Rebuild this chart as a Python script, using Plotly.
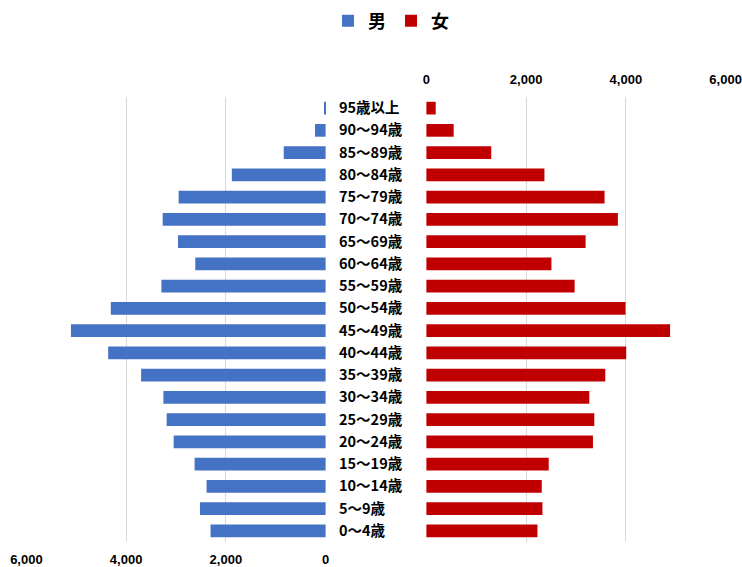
import plotly.graph_objects as go

categories = ["95歳以上", "90〜94歳", "85〜89歳", "80〜84歳", "75〜79歳", "70〜74歳",
              "65〜69歳", "60〜64歳", "55〜59歳", "50〜54歳", "45〜49歳", "40〜44歳",
              "35〜39歳", "30〜34歳", "25〜29歳", "20〜24歳", "15〜19歳", "10〜14歳",
              "5〜9歳", "0〜4歳"]
male = [25, 212, 840, 1880, 2947, 3267, 2960, 2613, 3293, 4307, 5107, 4360,
        3700, 3253, 3187, 3047, 2627, 2387, 2520, 2307]
female = [187, 547, 1300, 2367, 3573, 3840, 3193, 2507, 2973, 3993, 4887, 4007,
          3587, 3267, 3367, 3340, 2453, 2313, 2327, 2227]
tick_vals = [0, 2000, 4000, 6000]
tick_text = ["0", "2,000", "4,000", "6,000"]

CJK = "Noto Sans CJK JP"
NUM = "Liberation Sans Narrow, Arial Narrow, Liberation Sans, Arial"

W, H = 742, 567

fig = go.Figure()
fig.add_trace(go.Bar(y=categories, x=male, orientation="h", name="男",
                     marker=dict(color="#4472C4", line=dict(width=0)),
                     xaxis="x", yaxis="y"))
fig.add_trace(go.Bar(y=categories, x=female, orientation="h", name="女",
                     marker=dict(color="#C00000", line=dict(width=0)),
                     xaxis="x2", yaxis="y2"))

axis_common = dict(tickvals=tick_vals, ticktext=tick_text, showgrid=True,
                   gridcolor="#d9d9d9", gridwidth=1, zeroline=False, showline=False,
                   ticks="", tickfont=dict(family=NUM, size=13, color="#000000", weight="bold"),
                   fixedrange=True, automargin=False)

fig.update_layout(
    width=W, height=H,
    margin=dict(l=0, r=0, t=97, b=25),
    paper_bgcolor="white", plot_bgcolor="white",
    bargap=0.43,
    showlegend=True,
    legend=dict(orientation="h", x=391 / W, xanchor="center", y=1 - 21 / H, yref="container",
                yanchor="middle", font=dict(family=CJK, size=18, color="#000000", weight="bold"),
                itemwidth=30, traceorder="normal"),
    xaxis=dict(domain=[26 / W, 326 / W], range=[6008, -8], side="bottom",
               anchor="y", ticklabelstandoff=8, **axis_common),
    xaxis2=dict(domain=[426 / W, 726 / W], range=[-8, 6008], side="top",
                anchor="y2", ticklabelstandoff=9, **axis_common),
    yaxis=dict(anchor="x", side="right", categoryorder="array",
               categoryarray=categories[::-1], showgrid=False, zeroline=False,
               showline=False, ticks="", ticklabelstandoff=12, automargin=False,
               tickfont=dict(family=CJK, size=14.5, color="#000000", weight="bold"),
               fixedrange=True),
    yaxis2=dict(anchor="x2", matches="y", showticklabels=False, showgrid=False,
                zeroline=False, showline=False, ticks="", categoryorder="array",
                categoryarray=categories[::-1], fixedrange=True, automargin=False),
)

fig.write_html("out.html", config={"displayModeBar": False},
               post_script="document.body.style.margin='0';document.body.style.overflow='hidden';")
